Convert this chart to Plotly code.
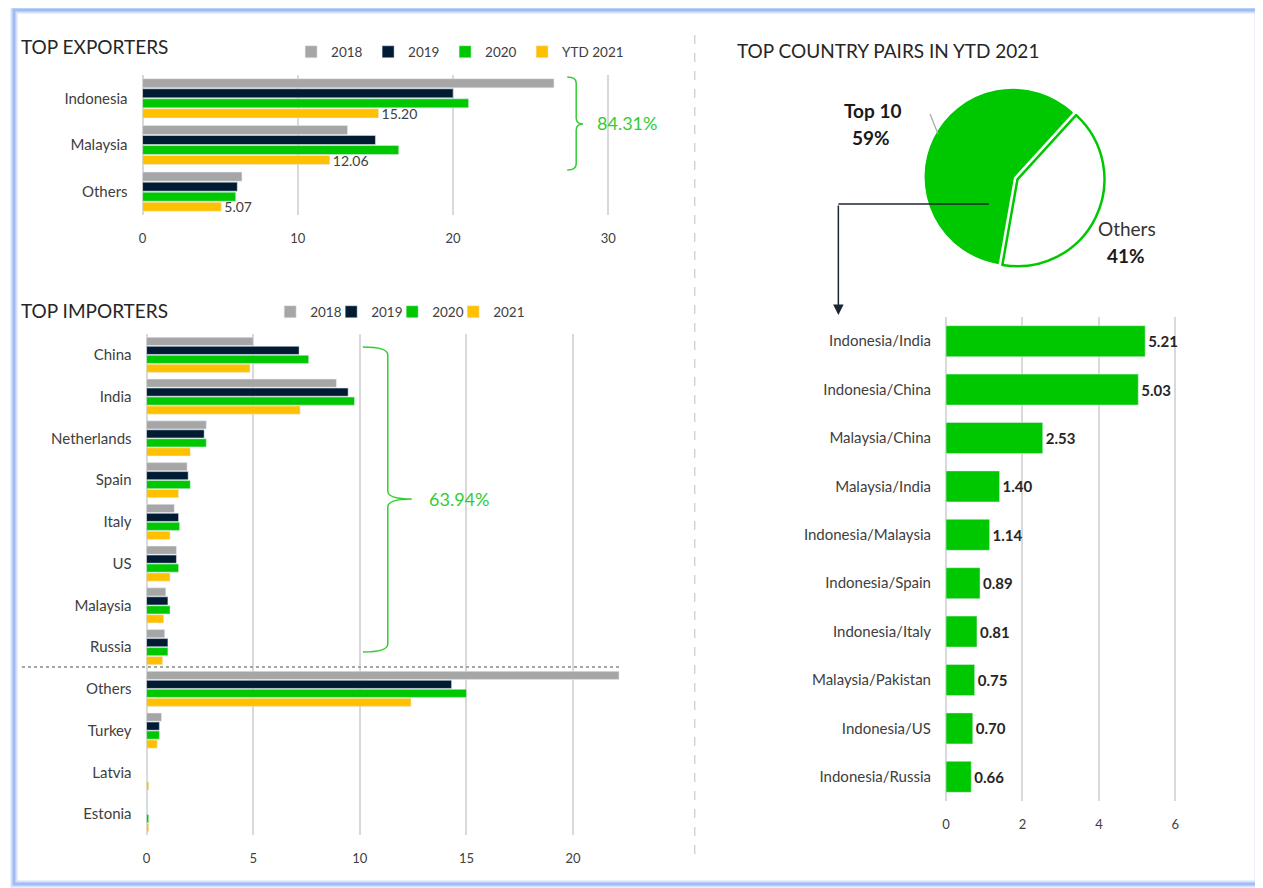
import plotly.graph_objects as go

FONT = 'Lato'
# the page body adds an 8px margin, so the figure is drawn 8px smaller and positions are offset
OX, OY = 8, 8
W, H = 1263 - OX, 888 - OY

C18, C19, C20, C21 = '#a6a6a6', '#011b33', '#00c800', '#ffc000'
BRACE = '#33cc33'
GRID = '#d9d9d9'

# ---- data ----
exp_countries = ['Indonesia', 'Malaysia', 'Others']
exp_2018 = [26.5, 13.2, 6.4]
exp_2019 = [20.0, 15.0, 6.1]
exp_2020 = [21.0, 16.5, 6.0]
exp_ytd2021 = [15.20, 12.06, 5.07]
exp_share = '84.31%'

imp_countries = ['China', 'India', 'Netherlands', 'Spain', 'Italy', 'US',
                 'Malaysia', 'Russia', 'Others', 'Turkey', 'Latvia', 'Estonia']
imp_2018 = [5.0, 8.9, 2.8, 1.9, 1.3, 1.4, 0.9, 0.85, 22.15, 0.7, 0, 0]
imp_2019 = [7.15, 9.45, 2.7, 1.95, 1.5, 1.4, 1.0, 1.0, 14.3, 0.6, 0, 0]
imp_2020 = [7.6, 9.75, 2.8, 2.05, 1.55, 1.5, 1.1, 1.0, 15.0, 0.6, 0, 0.1]
imp_2021 = [4.85, 7.2, 2.05, 1.5, 1.1, 1.1, 0.8, 0.75, 12.4, 0.5, 0.1, 0.1]
imp_share = '63.94%'

pie_labels = ['Top 10', 'Others']
pie_values = [59, 41]

pairs = ['Indonesia/India', 'Indonesia/China', 'Malaysia/China', 'Malaysia/India',
         'Indonesia/Malaysia', 'Indonesia/Spain', 'Indonesia/Italy',
         'Malaysia/Pakistan', 'Indonesia/US', 'Indonesia/Russia']
pair_values = [5.21, 5.03, 2.53, 1.40, 1.14, 0.89, 0.81, 0.75, 0.70, 0.66]


def px(x): return (x - OX) / W
def py(y): return 1 - (y - OY) / H


def brace(xh, xs, xt, yt, ym, yb, r):
    # right-pointing curly brace, pixel coords -> paper coords
    pts = lambda x, y: f'{px(x)},{py(y)}'
    return (f'M {pts(xh, yt)} Q {pts(xs, yt)} {pts(xs, yt + r)} L {pts(xs, ym - r)} '
            f'Q {pts(xs, ym)} {pts(xt, ym)} Q {pts(xs, ym)} {pts(xs, ym + r)} '
            f'L {pts(xs, yb - r)} Q {pts(xs, yb)} {pts(xh, yb)}')


def blank_entry(xa, ya, lg):
    # blank entry so the last fixed-width legend item is not clipped
    return go.Bar(y=[None], x=[None], name='', marker=dict(color='rgba(0,0,0,0)', line_width=0),
                  xaxis=xa, yaxis=ya, legend=lg, hoverinfo='skip')


fig = go.Figure()

# exporters
for name, vals, col in [('2018', exp_2018, C18), ('2019', exp_2019, C19),
                        ('2020', exp_2020, C20), ('YTD 2021', exp_ytd2021, C21)]:
    fig.add_trace(go.Bar(y=exp_countries, x=vals, name=name, orientation='h',
                         marker_color=col, xaxis='x', yaxis='y', legend='legend',
                         texttemplate='%{x:.2f}' if name == 'YTD 2021' else None,
                         textposition='outside' if name == 'YTD 2021' else 'none',
                         constraintext='none',
                         textfont=dict(size=14, color='#404040', family=FONT),
                         cliponaxis=False))
fig.add_trace(blank_entry('x', 'y', 'legend'))

# importers
for name, vals, col in [('2018', imp_2018, C18), ('2019', imp_2019, C19),
                        ('2020', imp_2020, C20), ('2021', imp_2021, C21)]:
    fig.add_trace(go.Bar(y=imp_countries, x=vals, name=name, orientation='h',
                         marker_color=col, xaxis='x2', yaxis='y2', legend='legend2',
                         cliponaxis=False))
fig.add_trace(blank_entry('x2', 'y2', 'legend2'))

# country pairs
fig.add_trace(go.Bar(y=pairs, x=pair_values, orientation='h', marker_color=C20,
                     width=0.64, offset=-0.32, xaxis='x3', yaxis='y3', showlegend=False,
                     texttemplate='<b>%{x:.2f}</b>', textposition='outside', constraintext='none',
                     textfont=dict(size=15, color='#262626', family=FONT), cliponaxis=False))

fig.add_trace(go.Pie(labels=pie_labels, values=pie_values, sort=False, direction='clockwise',
                     rotation=190, pull=[0, 0.06], textinfo='none', showlegend=False,
                     marker=dict(colors=[C20, 'white'], line=dict(color=C20, width=2.5)),
                     domain=dict(x=[px(919.5), px(1104.5)], y=[py(269.5), py(84.5)])))

xax = dict(showgrid=True, gridcolor=GRID, gridwidth=2, zeroline=True, zerolinecolor=GRID,
           zerolinewidth=2, showline=False, ticks='', ticklabelstandoff=14, layer='below traces',
           tickfont=dict(size=13, color='#404040', family=FONT))
yax = dict(showgrid=False, zeroline=False, showline=False, ticks='', autorange='reversed',
           type='category', ticklabelstandoff=14,
           tickfont=dict(size=15, color='#404040', family=FONT))

leg = dict(orientation='h', yanchor='middle', xanchor='left', bgcolor='rgba(0,0,0,0)',
           font=dict(size=13.5, color='#404040', family=FONT), entrywidthmode='pixels',
           traceorder='normal', itemclick=False)

ann = []
def label(text, x, y, size=19, color='#262626', xanchor='left'):
    ann.append(dict(text=text, x=px(x), y=py(y), xref='paper', yref='paper', showarrow=False,
                    xanchor=xanchor, yanchor='middle', font=dict(size=size, color=color, family=FONT)))

label('TOP EXPORTERS', 15, 46)
label('TOP IMPORTERS', 15, 310)
label('TOP COUNTRY PAIRS IN YTD 2021', 733, 50)
label(exp_share, 625, 123, 18, BRACE, 'center')
label(imp_share, 456, 499, 18, BRACE, 'center')
label('<b>Top 10</b>', 871, 110, 19, '#1a1a1a', 'center')
label('<b>59%</b>', 870, 137, 19, '#1a1a1a', 'center')
label('Others', 1127, 228, 19, '#333333', 'center')
label('<b>41%</b>', 1126, 256, 19, '#1a1a1a', 'center')

ann.append(dict(x=px(837), y=py(315), xref='paper', yref='paper', ax=0, ay=-111, text='',
                showarrow=True, arrowhead=2, arrowsize=1.4, arrowwidth=1.5, arrowcolor='#1c2633'))

shapes = [
    dict(type='rect', xref='paper', yref='paper', x0=px(10), x1=px(1258), y0=py(884), y1=py(10),
         line=dict(color='#d3e1fb', width=7), layer='below'),
    dict(type='rect', xref='paper', yref='paper', x0=px(10), x1=px(1258), y0=py(884), y1=py(10),
         line=dict(color='#9fbdf4', width=3), layer='below'),
    dict(type='line', xref='paper', yref='paper', x0=px(693), x1=px(693), y0=py(35), y1=py(862),
         line=dict(color='#bfbfbf', width=1, dash='dash')),
    dict(type='line', xref='paper', yref='paper', x0=px(18), x1=px(618), y0=py(667), y1=py(667),
         line=dict(color='#a6a6a6', width=2, dash='dot')),
    dict(type='path', xref='paper', yref='paper', path=brace(565, 574, 581, 77, 124, 170, 6),
         line=dict(color=BRACE, width=1.5)),
    dict(type='path', xref='paper', yref='paper', path=brace(360, 385, 409, 347, 499, 652, 8),
         line=dict(color=BRACE, width=1.5)),
    dict(type='line', xref='paper', yref='paper', x0=px(929), x1=px(937), y0=py(114), y1=py(134),
         line=dict(color='#a6a6a6', width=1.2)),
    dict(type='line', xref='paper', yref='paper', x0=px(988), x1=px(837), y0=py(204), y1=py(204),
         line=dict(color='#1c2633', width=1.5)),
]

fig.update_layout(
    width=W, height=H, margin=dict(l=0, r=0, t=0, b=0),
    paper_bgcolor='white', plot_bgcolor='white',
    font=dict(family=FONT, color='#404040'),
    barmode='group', bargap=0.14, bargroupgap=0.1,
    xaxis=dict(xax, domain=[px(139), px(614)], range=[0, 30.5], dtick=10, anchor='y'),
    yaxis=dict(yax, domain=[py(215), py(75)], anchor='x'),
    xaxis2=dict(xax, domain=[px(143), px(618)], range=[0, 22.2], dtick=5, anchor='y2'),
    yaxis2=dict(yax, domain=[py(835), py(334)], anchor='x2'),
    xaxis3=dict(xax, domain=[px(945), px(1200)], range=[0, 6.65], dtick=2, anchor='y3'),
    yaxis3=dict(yax, domain=[py(801), py(317)], anchor='x3'),
    legend=dict(leg, x=px(288), y=py(52), entrywidth=32),
    legend2=dict(leg, x=px(267), y=py(312), entrywidth=16),
    annotations=ann, shapes=shapes,
)

fig.write_html('out.html')
